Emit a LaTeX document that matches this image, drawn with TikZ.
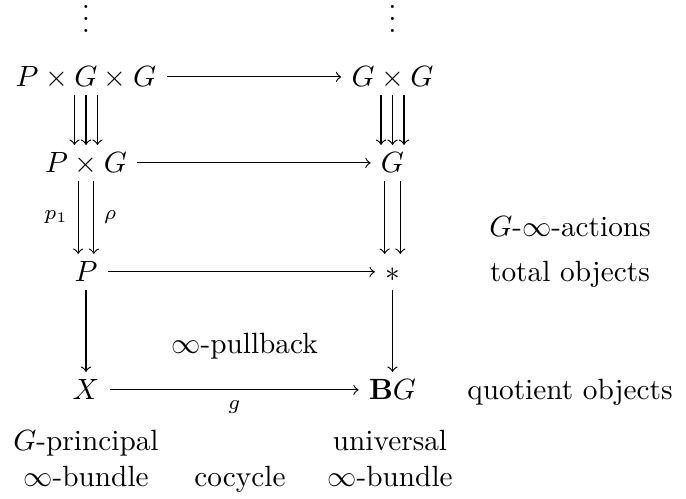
\documentclass[tikz,border=0pt]{standalone}
\usepackage{amsmath,amssymb}
\usepackage{tikz}

\begin{document}
\begin{tikzpicture}[scale=1.0,>=to,
  obj/.style={anchor=base,inner xsep=3.33pt,inner ysep=2.5pt,text height=1.6ex,text depth=0pt},
  txt/.style={anchor=base,inner sep=0pt},
  dotsobj/.style={anchor=base,inner sep=0pt,text height=9.5pt,text depth=0pt}]
 \useasboundingbox (0,0) rectangle (8.232,5.988);
 % objects
 \node[dotsobj] (dl) at (1.032,5.6) {$\vdots$};
 \node[dotsobj] (dr) at (4.71,5.6) {$\vdots$};
 \node[obj] (pgg) at (1.032,4.944) {$P\times G\times G$};
 \node[obj] (gg) at (4.71,4.944) {$G\times G$};
 \node[obj] (pg) at (1.032,3.912) {$P\times G$};
 \node[obj] (g) at (4.71,3.912) {$G$};
 \node[obj] (p) at (1.032,2.604) {$P$};
 \node[obj] (pt) at (4.71,2.604) {$*$};
 \node[obj] (x) at (1.032,1.188) {$X$};
 \node[obj] (bg) at (4.71,1.188) {$\mathbf{B}G$};
 % horizontal maps
 \draw[->] (pgg) -- (gg);
 \draw[->] (pg) -- (g);
 \draw[->] (p) -- (pt);
 \draw[->] (x) -- node[below] {$\scriptstyle g$} (bg);
 % triple arrows
 \draw[->] ([xshift=-0.138cm]pgg.south) -- ([xshift=-0.138cm]pg.north);
 \draw[->] (pgg.south) -- (pg.north);
 \draw[->] ([xshift=0.138cm]pgg.south) -- ([xshift=0.138cm]pg.north);
 \draw[->] ([xshift=-0.138cm]gg.south) -- ([xshift=-0.138cm]g.north);
 \draw[->] (gg.south) -- (g.north);
 \draw[->] ([xshift=0.138cm]gg.south) -- ([xshift=0.138cm]g.north);
 % double arrows
 \draw[->] ([xshift=-0.094cm]pg.south) -- node[left] {$\scriptstyle p_1$} ([xshift=-0.094cm]p.north);
 \draw[->] ([xshift=0.094cm]pg.south) -- node[right] {$\scriptstyle \rho$} ([xshift=0.094cm]p.north);
 \draw[->] ([xshift=-0.094cm]g.south) -- ([xshift=-0.094cm]pt.north);
 \draw[->] ([xshift=0.094cm]g.south) -- ([xshift=0.094cm]pt.north);
 % projections
 \draw[->] (p) -- (x);
 \draw[->] (pt) -- (bg);
 % texts
 \node[txt] (pullback) at (2.934,1.74) {$\infty$-pullback};
 \node[txt] (actions) at (6.84,3.144) {$G$-$\infty$-actions};
 \node[txt] (total) at (6.84,2.604) {total objects};
 \node[txt] (quotient) at (6.84,1.188) {quotient objects};
 \node[txt,align=center] (princ) at (1.032,0.156) {$G$-principal\\$\infty$-bundle};
 \node[txt] (cocyc) at (2.88,0.156) {cocycle};
 \node[txt,align=center] (univ) at (4.68,0.156) {universal\\$\infty$-bundle};
\end{tikzpicture}
\end{document}
